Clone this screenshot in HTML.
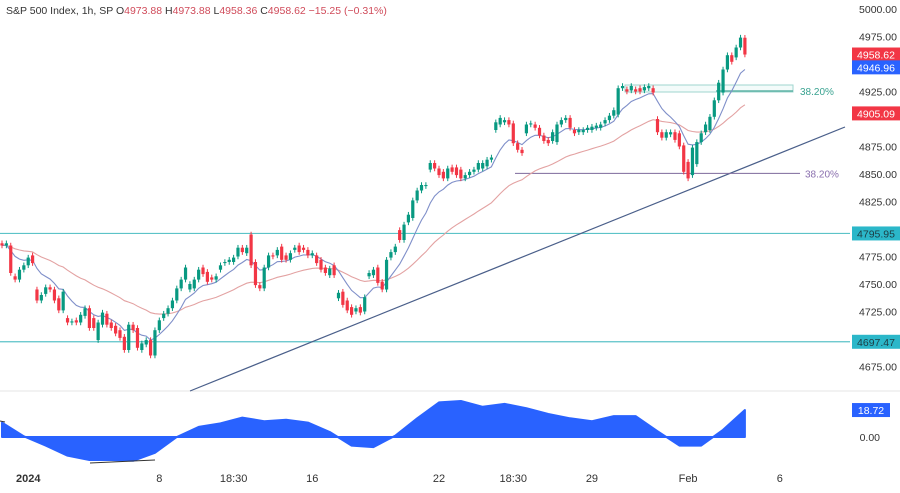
<!DOCTYPE html>
<html><head><meta charset="utf-8"><style>
html,body{margin:0;padding:0;background:#fff;}
body{width:900px;height:488px;overflow:hidden;font-family:"Liberation Sans",sans-serif;}
</style></head><body>
<svg id="chart" width="900" height="488" xmlns="http://www.w3.org/2000/svg" font-family="Liberation Sans, sans-serif">
<rect x="0" y="0" width="900" height="488" fill="#fff"/>
<text x="6" y="14" font-size="10.5" fill="#333">S&amp;P 500 Index, 1h, SP  O<tspan fill="#d04b5a">4973.88</tspan> H<tspan fill="#d04b5a">4973.88</tspan> L<tspan fill="#d04b5a">4958.36</tspan> C<tspan fill="#d04b5a">4958.62 −15.25 (−0.31%)</tspan></text>
<line x1="0" y1="391" x2="900" y2="391" stroke="#e6e6e6"/>
<g id="g"></g>
</svg>
<script>
const opens=[4787,4785,4785,4757,4754,4763,4767,4776,4745,4735,4741,4747,4745,4737,4726,4719,4715,4717,4715,4721,4728,4719,4699,4713,4723,4715,4712,4708,4702,4690,4713,4710,4690,4695,4699,4685,4708,4719,4723,4728,4735,4746,4754,4745,4746,4754,4765,4761,4756,4754,4763,4769,4770,4770,4775,4783,4778,4795,4770,4749,4746,4765,4776,4776,4784,4776,4772,4781,4785,4783,4781,4776,4776,4772,4765,4758,4767,4737,4743,4735,4729,4725,4729,4725,4757,4758,4765,4752,4745,4774,4779,4799,4790,4806,4810,4826,4835,4839,4854,4860,4855,4852,4846,4856,4856,4854,4846,4849,4852,4854,4855,4857,4863,4890,4895,4897,4899,4896,4878,4872,4887,4895,4895,4892,4885,4881,4880,4879,4895,4899,4901,4890,4888,4888,4890,4890,4892,4892,4896,4899,4903,4904,4928,4927,4926,4927,4928,4926,4928,4928,4900,4888,4883,4886,4888,4887,4876,4861,4849,4859,4879,4888,4890,4902,4917,4924,4945,4958,4956,4965,4973.88];
const closes=[4785,4787,4760,4754,4763,4767,4774,4769,4735,4740,4747,4745,4735,4726,4743,4715,4716,4715,4722,4728,4710,4710,4715,4724,4713,4710,4705,4701,4690,4713,4708,4692,4696,4699,4685,4708,4717,4723,4728,4735,4746,4754,4765,4750,4754,4763,4759,4752,4754,4757,4767,4770,4772,4774,4783,4779,4783,4767,4749,4746,4765,4776,4775,4781,4772,4772,4778,4783,4779,4781,4776,4778,4769,4763,4760,4764,4758,4742,4731,4726,4722,4728,4724,4738,4760,4763,4751,4745,4772,4779,4784,4790,4804,4813,4826,4835,4840,4840,4860,4855,4849,4846,4855,4852,4849,4846,4849,4852,4854,4860,4860,4863,4865,4897,4901,4899,4895,4878,4872,4869,4895,4896,4892,4885,4880,4878,4888,4895,4899,4901,4892,4887,4890,4890,4892,4893,4894,4895,4899,4903,4908,4928,4930,4925,4930,4925,4925,4929,4930,4924,4888,4883,4888,4888,4881,4875,4852,4846,4874,4879,4887,4895,4902,4917,4933,4945,4958,4952,4965,4974,4958.62];
const oscVals=[10,0.5,-6,-13,-16,-16,-16.5,-11,0,7,9.5,13.5,11,12,10,3.5,-6,-7,1,13,24,25,21,23,20,16,13,11,14.5,14.5,4,-6,-6,5,18.72];
const oscStep=5;
const priceTicks=[5000,4975,4925,4875,4850,4825,4775,4750,4725,4675];
const levels=[4795.95,4697.47];
const timeLabels=["2024","8","18:30","16","22","18:30","29","Feb","6"];
const timeIdx=[6,36,53,71,100,117,135,157,178];

const NS="http://www.w3.org/2000/svg";
const g=document.getElementById('g');
function el(t,a,p){const e=document.createElementNS(NS,t);for(const k in a)e.setAttribute(k,a[k]);(p||g).appendChild(e);return e;}
const X=i=>2+i*4.37;
const Y=p=>9+(5000-p)*1.1;
const OY=v=>437-v*1.44;
const UP="#089981",DN="#f23645";

levels.forEach((lv,k)=>{const l=el('line',{x1:0,x2:850,y1:Y(lv),y2:Y(lv),stroke:"#5cc3c8","stroke-width":1.2});

});

const tl=el('line',{x1:190,y1:391,x2:845,y2:127,stroke:"#4a5f8a","stroke-width":1.2});



const f1=el('line',{x1:515,x2:800,y1:Y(4850.6),y2:Y(4850.6),stroke:"#7d6a9c","stroke-width":1});


const ft1=el('text',{x:805,y:Y(4850.6)+4,"font-size":10,fill:"#8a6fae"});ft1.textContent="38.20%";


const bx=el('rect',{x:625,y:85,width:168,height:7,fill:"#f3fbfa",stroke:"#9fd6cf","stroke-width":1});


const f2=el('line',{x1:716,x2:793,y1:91,y2:91,stroke:"#5fb3a6","stroke-width":1.6});


const ft2=el('text',{x:800,y:95,"font-size":10,fill:"#3aa391"});ft2.textContent="38.20%";



function ema(n){const k=2/(n+1);let r=[],v=closes[0];closes.forEach(c=>{v=c*k+v*(1-k);r.push(v);});return r;}
[[ema(34),"#e3a2a2",'ma-slow'],[ema(9),"#7f8fc9",'ma-fast']].forEach(([arr,col,nm])=>{
const p=el('path',{d:arr.map((v,i)=>(i?'L':'M')+X(i).toFixed(1)+' '+Y(v).toFixed(1)).join(''),fill:"none",stroke:col,"stroke-width":1.1});

});

closes.forEach((c,i)=>{const o=opens[i];const up=c>=o;const col=up?UP:DN;
const hi=Math.max(o,c)+2.5,lo=Math.min(o,c)-2.5;
const w=el('line',{x1:X(i),x2:X(i),y1:Y(hi),y2:Y(lo),stroke:col,"stroke-width":1});


const top=Y(Math.max(o,c)),h=Math.max(1,Math.abs(Y(o)-Y(c)));
const b=el('rect',{x:X(i)-1.6,y:top,width:3.2,height:h,fill:col});

});

let d='M'+X(0)+' '+OY(0);
oscVals.forEach((v,k)=>{d+='L'+X(k*oscStep).toFixed(1)+' '+OY(v).toFixed(1);});
d+='L'+X((oscVals.length-1)*oscStep).toFixed(1)+' '+OY(0)+'Z';
const oa=el('path',{d:d,fill:"#2962ff","stroke":"#2962ff","stroke-linejoin":"round","stroke-width":2});


const dv=el('line',{x1:90,y1:463,x2:155,y2:460,stroke:"#333","stroke-width":1});


const dv2=el('line',{x1:0,y1:421,x2:5,y2:422,stroke:"#333","stroke-width":1});



priceTicks.forEach(p=>{const t=el('text',{x:897,y:Y(p)+4,"font-size":10.5,fill:"#333","text-anchor":"end"});t.textContent=p.toFixed(2);

});
function badge(v,yy,bg,fg,nm,w){const r=el('rect',{x:852,y:yy-7,width:w||48,height:14,fill:bg});


const t=el('text',{x:874+(w?(w-48)/2:0)+2,y:yy+4,"font-size":10.5,fill:fg,"text-anchor":"middle"});t.textContent=v;

}
badge("4958.62",Y(4958.62),"#f23645","#fff",'last-price');
badge("4946.96",Y(4946.96),"#2962ff","#fff",'ma-fast-value');
badge("4905.09",Y(4905.09),"#f23645","#fff",'ma-slow-value');
levels.forEach((lv,k)=>badge(lv.toFixed(2),Y(lv),"#2bb7c9","#1d3d44",'level-'+k));
badge("18.72",OY(18.72),"#2962ff","#fff",'oscillator-value',38);
const z=el('text',{x:880,y:OY(0)+4,"font-size":10.5,fill:"#333","text-anchor":"end"});z.textContent="0.00";



timeLabels.forEach((s,k)=>{const t=el('text',{x:X(timeIdx[k]),y:482,"font-size":11,fill:"#333","text-anchor":"middle","font-weight":k===0?"bold":"normal"});t.textContent=s;

});
</script>
</body></html>
